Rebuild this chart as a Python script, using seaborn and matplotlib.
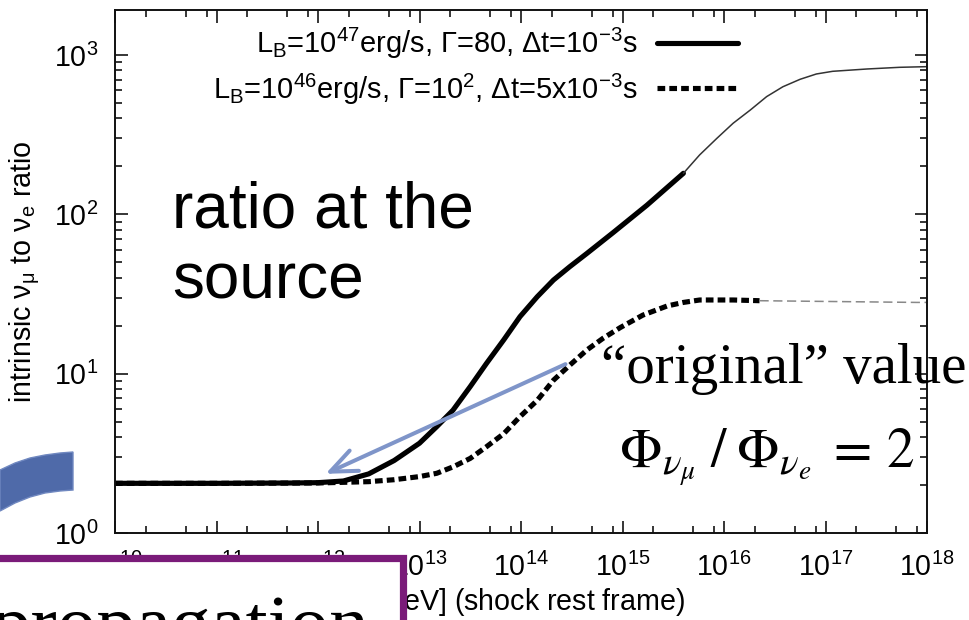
import numpy as np
import matplotlib
matplotlib.use('Agg')
import matplotlib.pyplot as plt
import seaborn as sns
from matplotlib.patches import Polygon, Rectangle, FancyArrowPatch
from matplotlib.ticker import LogLocator, NullFormatter

# values: log10(E / eV) and the nu_mu / nu_e ratio
# L_B = 1e47 erg/s, Gamma = 80 (thick part, then thin continuation)
solid_logE = [10.0, 11.0, 11.75, 12.0, 12.25, 12.5, 12.75, 13.0, 13.17, 13.33,
              13.5, 13.66, 13.83, 13.99, 14.16, 14.32, 14.48, 14.65, 14.91,
              15.24, 15.6]
solid_ratio = [2.05, 2.05, 2.06, 2.07, 2.12, 2.35, 2.85, 3.66, 4.65, 5.9,
               8.3, 11.6, 16.3, 22.8, 30.4, 38.7, 46.9, 56.9, 77.0,
               114.0, 181.0]
solid_tail_logE = [15.6, 15.76, 15.93, 16.09, 16.26, 16.42, 16.58, 16.75, 16.91,
                   17.07, 17.41, 17.73, 18.0]
solid_tail_ratio = [181.0, 236.0, 300.0, 373.0, 452.0, 548.0, 632.0, 704.0, 760.0,
                    790.0, 817.0, 837.0, 845.0]

# L_B = 1e46 erg/s, Gamma = 100
dashed_logE = [10.0, 11.0, 12.0, 12.5, 12.75, 13.0, 13.17, 13.33, 13.5, 13.66,
               13.83, 13.99, 14.16, 14.32, 14.48, 14.65, 14.81, 14.98, 15.2,
               15.44, 15.6, 15.76, 16.09, 16.35]
dashed_ratio = [2.05, 2.05, 2.06, 2.1, 2.16, 2.26, 2.37, 2.6, 2.94, 3.48,
                4.2, 5.37, 6.8, 9.1, 11.3, 14.1, 16.7, 19.5, 23.3,
                26.6, 28.0, 29.0, 29.0, 28.7]
dashed_tail_logE = [16.35, 17.0, 17.9, 18.0]
dashed_tail_ratio = [28.7, 28.4, 28.0, 28.0]

label_47 = r'L$_\mathregular{B}$=10$^\mathregular{47}$erg/s, Γ=80, Δt=10$^\mathregular{-3}$s'
label_46 = r'L$_\mathregular{B}$=10$^\mathregular{46}$erg/s, Γ=10$^\mathregular{2}$, Δt=5x10$^\mathregular{-3}$s'

W, H = 969, 620


def px(x, y):
    # pixel position (from top-left) -> figure fraction
    return (x / W, 1 - y / H)


sns.set_style('ticks')
plt.rcParams.update({
    'font.family': ['Liberation Sans', 'DejaVu Sans'],
    'mathtext.fontset': 'custom',
    'mathtext.rm': 'Liberation Sans',
    'mathtext.it': 'Liberation Sans:italic',
    'mathtext.bf': 'Liberation Sans:bold',
    'font.size': 20.6,
    'text.color': 'black',
    'axes.labelcolor': 'black',
    'axes.linewidth': 1.4,
    'axes.edgecolor': '#111111',
    'xtick.color': 'black', 'ytick.color': 'black',
    'xtick.direction': 'in', 'ytick.direction': 'in',
    'xtick.top': True, 'ytick.right': True,
    'xtick.major.size': 9, 'ytick.major.size': 9,
    'xtick.minor.size': 5, 'ytick.minor.size': 5,
    'xtick.major.width': 1.1, 'ytick.major.width': 1.1,
    'xtick.minor.width': 1.1, 'ytick.minor.width': 1.1,
    'xtick.major.pad': 14, 'ytick.major.pad': 12,
})

fig = plt.figure(figsize=(W / 100, H / 100), dpi=100)
ax = fig.add_axes([115 / W, 1 - 533 / H, (927 - 115) / W, (533 - 9.5) / H])
ax.set_xscale('log')
ax.set_yscale('log')

sns.lineplot(x=10 ** np.array(solid_logE), y=solid_ratio, ax=ax, color='black',
             linewidth=3.7, estimator=None, sort=False, solid_joinstyle='round')
h47 = ax.get_lines()[-1]
sns.lineplot(x=10 ** np.array(solid_tail_logE), y=solid_tail_ratio, ax=ax,
             color='#333333', linewidth=1.1, estimator=None, sort=False)
sns.lineplot(x=10 ** np.array(dashed_logE), y=dashed_ratio, ax=ax, color='black',
             linewidth=3.7, estimator=None, sort=False, linestyle=(0, (1.5, 0.8)))
h46 = ax.get_lines()[-1]
sns.lineplot(x=10 ** np.array(dashed_tail_logE), y=dashed_tail_ratio, ax=ax,
             color='#888888', linewidth=1.1, estimator=None, sort=False,
             linestyle=(0, (6, 3)))

ax.set_xlim(1e10, 1e18)
ax.set_ylim(1, 1930)
ax.xaxis.set_major_locator(LogLocator(base=10, numticks=20))
ax.xaxis.set_minor_locator(LogLocator(base=10, subs=[2, 5, 8], numticks=20))
ax.xaxis.set_minor_formatter(NullFormatter())
ax.yaxis.set_minor_locator(LogLocator(base=10, subs=np.arange(2, 10), numticks=20))
ax.yaxis.set_minor_formatter(NullFormatter())

ax.set_xlabel(r'E$_\mathregular{ν}$ [eV] (shock rest frame)', labelpad=3)
ax.set_ylabel(r'intrinsic ν$_\mathregular{μ}$ to ν$_\mathregular{e}$ ratio')
ax.yaxis.set_label_coords((42 - 115) / 812, 0.5)

ax.legend([h47, h46], [label_47, label_46], loc='upper right',
          bbox_to_anchor=((738 - 115) / 812, 1 - (26 - 9.5) / 523.5),
          frameon=False, markerfirst=False, handlelength=2.8, handletextpad=0.65,
          labelspacing=0.35, borderpad=0, borderaxespad=0, fontsize=20.9)

# slide annotations on top of the plot
fig.text(*px(172, 227), 'ratio at the', fontsize=46, va='baseline', ha='left')
fig.text(*px(172, 298), 'source', fontsize=46, va='baseline', ha='left')
fig.text(*px(601, 383), '“original” value', fontsize=41, va='baseline', ha='left',
         family='Liberation Serif')
fig.text(*px(619, 467), r'$\Phi_{\nu_{\mu}}\;/\;\Phi_{\nu_e}\;=\,2$', fontsize=40,
         va='baseline', ha='left', math_fontfamily='stix')

arrow = FancyArrowPatch(px(568, 363), px(323, 475), transform=fig.transFigure,
                        arrowstyle='->,head_length=0.95,head_width=0.4',
                        mutation_scale=20, lw=2.9, color='#7f95c9', zorder=10)
fig.add_artist(arrow)

band = Polygon([px(0, 470), px(15, 463), px(30, 458), px(45, 455), px(60, 453),
                px(73, 452), px(73, 490), px(60, 491), px(45, 493), px(30, 497),
                px(15, 503), px(0, 511)], closed=True,
               transform=fig.transFigure, facecolor='#4f6aa9', edgecolor='#7088c0',
               lw=1, zorder=10)
fig.add_artist(band)

box = Rectangle(px(-20, 660), (403 + 20) / W, (660 - 558) / H, transform=fig.transFigure,
                facecolor='white', edgecolor='#7a1b79', lw=5.2, zorder=10)
fig.add_artist(box)
fig.text(*px(-8, 649), 'propagation', fontsize=57, va='baseline', ha='left',
         family='Liberation Serif', zorder=11)

fig.savefig('out.png', dpi=100)
